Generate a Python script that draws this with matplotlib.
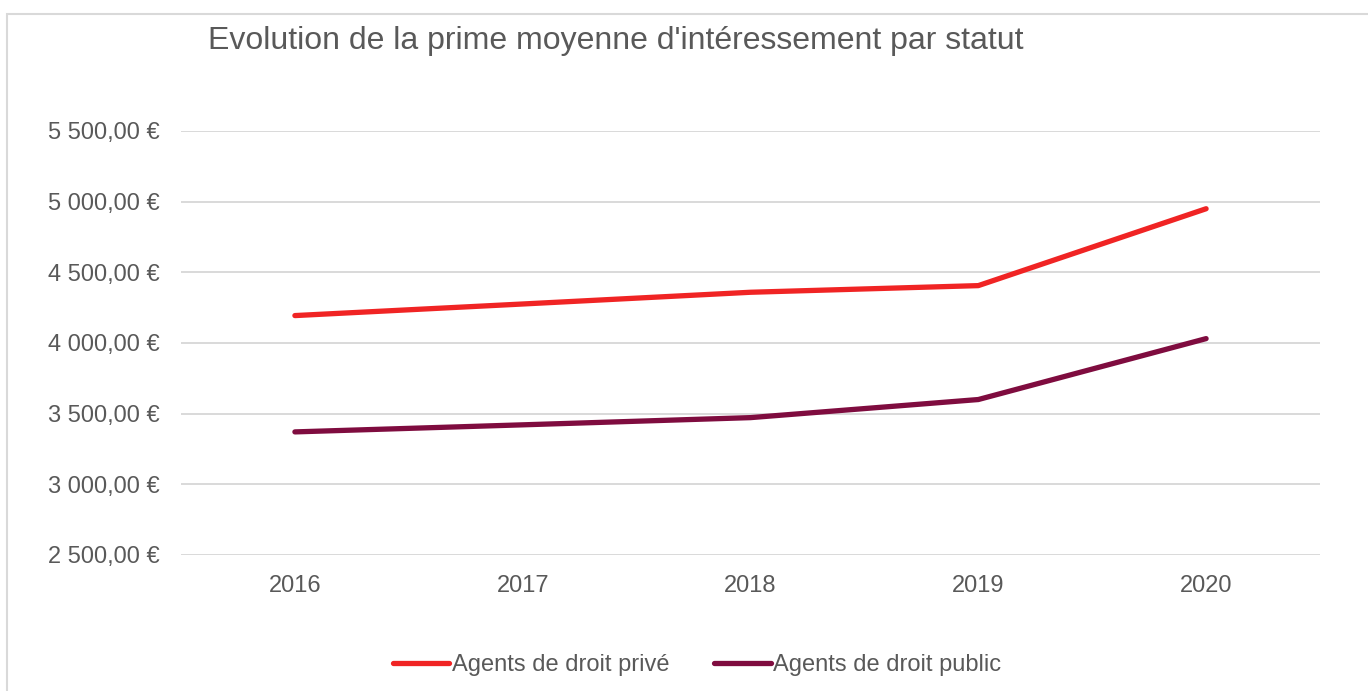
import matplotlib
matplotlib.use("Agg")
import matplotlib.pyplot as plt
from matplotlib.patches import Rectangle
from matplotlib.ticker import FuncFormatter

plt.rcParams['font.family'] = ['Liberation Sans', 'DejaVu Sans']

# donnees
annees = ["2016", "2017", "2018", "2019", "2020"]
prive = [4194, 4276, 4359, 4406, 4950]
public = [3371, 3421, 3472, 3600, 4031]
labels = ["Agents de droit privé", "Agents de droit public"]
couleurs = ["#f02424", "#7f0c3f"]

fig = plt.figure(figsize=(13.68, 6.91), dpi=100)
ax = fig.add_axes([181/1368, 1 - 555/691, 1139/1368, 424/691])

x = range(len(annees))
ax.plot(x, prive, color=couleurs[0], lw=3.8, label=labels[0], solid_capstyle='round')
ax.plot(x, public, color=couleurs[1], lw=3.8, label=labels[1], solid_capstyle='round')

ax.set_xlim(-0.5, len(annees) - 0.5)
ax.set_ylim(2500, 5500)
ax.set_yticks(range(2500, 5501, 500))
ax.set_xticks(list(x))
ax.set_xticklabels(annees)

def euro(v, pos):
    return f"{v:,.2f}".replace(",", " ").replace(".", ",") + " €"

ax.yaxis.set_major_formatter(FuncFormatter(euro))
ax.grid(axis='y', color='#d9d9d9', lw=1.4)
ax.set_axisbelow(True)
for s in ax.spines.values():
    s.set_visible(False)
ax.tick_params(axis='both', length=0, labelsize=17, colors='#595959')
ax.tick_params(axis='y', pad=15)
ax.tick_params(axis='x', pad=14.5)

fig.text(208/1368, 1 - 41/691, "Evolution de la prime moyenne d'intéressement par statut",
         fontsize=23, color='#595959', va='center', ha='left')

leg = fig.legend(loc='center', bbox_to_anchor=(697/1368, 1 - 665/691), ncol=2,
                 frameon=False, fontsize=17, handlelength=2.4, handletextpad=0.1,
                 columnspacing=1.9)
for t in leg.get_texts():
    t.set_color('#595959')

# cadre du graphique
fig.patches.append(Rectangle((7/1368, -0.1), 1.2, 1 - 14/691 + 0.1,
                             transform=fig.transFigure, fill=False,
                             edgecolor='#d9d9d9', lw=1.5))

fig.savefig("out.png", dpi=100, facecolor='white')
